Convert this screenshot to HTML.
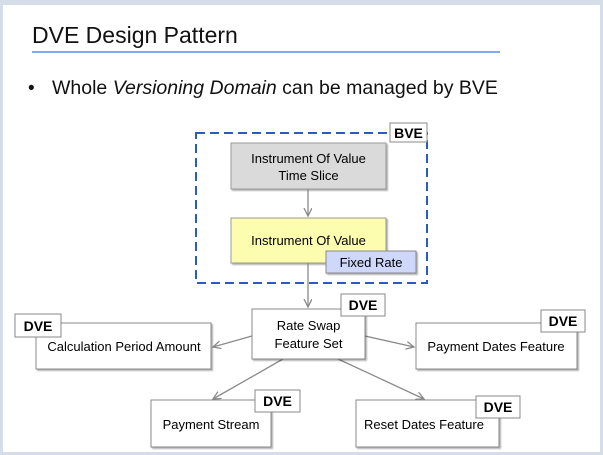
<!DOCTYPE html>
<html><head><style>
html,body{margin:0;padding:0;background:#d5dde8;}
svg{display:block;font-family:"Liberation Sans",Arial,sans-serif;}
</style></head><body>
<svg width="603" height="455" viewBox="0 0 603 455" xmlns="http://www.w3.org/2000/svg">
<defs>
<marker id="a" markerWidth="10" markerHeight="10" refX="8" refY="4" orient="auto" markerUnits="userSpaceOnUse">
<path d="M0,0 L8,4 L0,8" fill="none" stroke="#8a8a8a" stroke-width="1.3"/>
</marker>
<filter id="s" x="-10%" y="-10%" width="130%" height="140%"><feDropShadow dx="1.5" dy="1.5" stdDeviation="0.8" flood-color="#000" flood-opacity="0.3"/></filter>
</defs>
<rect x="3" y="5" width="597" height="447" fill="#fff"/>
<text x="32" y="43" font-size="23" fill="#111">DVE Design Pattern</text>
<rect x="32" y="51" width="468" height="2" fill="#85a9f0"/>
<text x="28" y="94" font-size="19" fill="#111">•</text>
<text x="52" y="94" font-size="19.5" fill="#111">Whole <tspan font-style="italic">Versioning Domain</tspan> can be managed by BVE</text>

<rect x="196" y="133" width="231" height="150" fill="none" stroke="#2a5cc0" stroke-width="2" stroke-dasharray="9,5"/>
<rect x="390" y="123" width="37" height="19" fill="#fff" stroke="#888"/>
<text x="408.5" y="138" font-size="14" font-weight="bold" text-anchor="middle">BVE</text>

<rect x="231" y="143" width="155" height="46" fill="#dadada" stroke="#999" filter="url(#s)"/>
<text x="308.5" y="163" font-size="13" text-anchor="middle">Instrument Of Value</text>
<text x="308.5" y="180" font-size="13" text-anchor="middle">Time Slice</text>
<line x1="308" y1="189" x2="308" y2="216" stroke="#8a8a8a" stroke-width="1.3" marker-end="url(#a)"/>
<rect x="231" y="218" width="155" height="45" fill="#fdfdb0" stroke="#999" filter="url(#s)"/>
<text x="308.5" y="245" font-size="13" text-anchor="middle">Instrument Of Value</text>
<rect x="326" y="251" width="90" height="22" fill="#cfd8fb" stroke="#888" filter="url(#s)"/>
<text x="371" y="267" font-size="13" text-anchor="middle">Fixed Rate</text>
<line x1="308" y1="263" x2="308" y2="307" stroke="#8a8a8a" stroke-width="1.3" marker-end="url(#a)"/>

<g stroke="#8a8a8a" stroke-width="1.3" marker-end="url(#a)">
<line x1="252" y1="336" x2="213" y2="347"/>
<line x1="365" y1="336" x2="414" y2="347"/>
<line x1="283" y1="359" x2="213" y2="399"/>
<line x1="338" y1="359" x2="424" y2="399"/>
</g>

<g fill="#fff" stroke="#888" filter="url(#s)">
<rect x="252" y="309" width="113" height="50"/>
<rect x="36" y="323" width="175" height="46"/>
<rect x="416" y="323" width="161" height="46"/>
<rect x="151" y="400" width="120" height="47"/>
<rect x="356" y="400" width="143" height="47"/>
</g>
<g font-size="13" text-anchor="middle">
<text x="308.5" y="330">Rate Swap</text>
<text x="308.5" y="348">Feature Set</text>
<text x="124" y="351">Calculation Period Amount</text>
<text x="496" y="351">Payment Dates Feature</text>
<text x="211" y="429">Payment Stream</text>
<text x="424" y="429">Reset Dates Feature</text>
</g>
<g fill="#fff" stroke="#888">
<rect x="341" y="294" width="44" height="22"/>
<rect x="15" y="314" width="46" height="23"/>
<rect x="541" y="310" width="44" height="22"/>
<rect x="255" y="390" width="45" height="22"/>
<rect x="476" y="396" width="44" height="22"/>
</g>
<g font-size="14" font-weight="bold" text-anchor="middle">
<text x="363" y="310">DVE</text>
<text x="38" y="331">DVE</text>
<text x="563" y="326">DVE</text>
<text x="277.5" y="406">DVE</text>
<text x="498" y="412">DVE</text>
</g>
</svg>
</body></html>
